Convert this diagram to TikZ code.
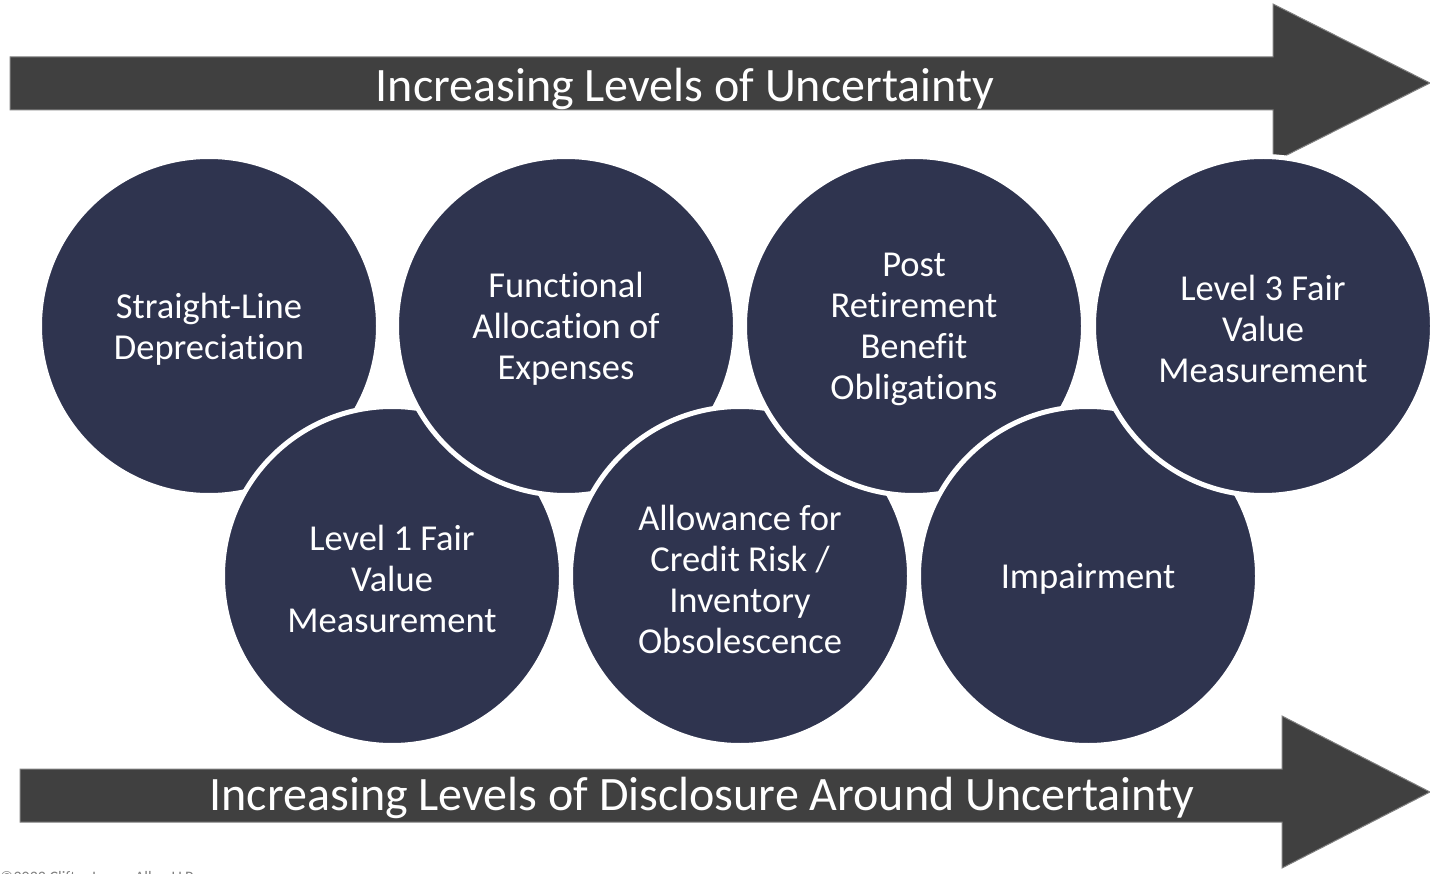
\documentclass[tikz,border=0pt]{standalone}
\usepackage{fontspec}
\setmainfont{Carlito}[RawFeature={-liga;-clig;-dlig;-calt}]
\definecolor{navy}{HTML}{2F344F}
\definecolor{arrowgray}{HTML}{404040}
\definecolor{edgegray}{HTML}{808080}
\begin{document}
\begin{tikzpicture}[x=1pt,y=-1pt,
  topic/.style={circle, fill=navy, draw=white, line width=5pt, minimum size=339pt, inner sep=0pt},
  topictext/.style={align=center, text=white, inner sep=0pt, yshift=-3pt,
    font=\fontsize{36.5}{41}\selectfont},
  banner/.style={fill=arrowgray, draw=edgegray, line width=1pt},
  bannertext/.style={text=white, font=\fontsize{48}{52}\selectfont, inner sep=0pt, anchor=base}
]
\useasboundingbox (0,0) rectangle (1430,874);

% block arrows
\draw[banner] (10,57) -- (1273,57) -- (1273,4) -- (1430,83) -- (1273,162) -- (1273,110) -- (10,110) -- cycle;
\draw[banner] (20,769) -- (1282,769) -- (1282,716) -- (1430,792) -- (1282,868) -- (1282,822) -- (20,822) -- cycle;
\node[bannertext] (toplabel) at (685,102) {Increasing Levels of Uncertainty};
\node[bannertext] (bottomlabel) at (702,810) {Increasing Levels of Disclosure Around Uncertainty};

% circles, drawn left to right in zigzag order, each with its caption
\node[topic] (s1) at (209,326) {};
\node[topictext] (s1t) at (s1) {Straight-Line\\Depreciation};
\node[topic] (l1) at (392,576) {};
\node[topictext] (l1t) at (l1) {Level 1 Fair\\Value\\Measurement};
\node[topic] (s2) at (566,326) {};
\node[topictext] (s2t) at (s2) {Functional\\Allocation of\\Expenses};
\node[topic] (l2) at (740,576) {};
\node[topictext] (l2t) at (l2) {Allowance for\\Credit Risk /\\Inventory\\Obsolescence};
\node[topic] (s3) at (914,326) {};
\node[topictext] (s3t) at (s3) {Post\\Retirement\\Benefit\\Obligations};
\node[topic] (l3) at (1088,576) {};
\node[topictext] (l3t) at (l3) {Impairment};
\node[topic] (s4) at (1263,326) {};
\node[topictext] (s4t) at (s4) {Level 3 Fair\\Value\\Measurement};

% footer
\node[text=gray, font=\fontsize{16}{18}\selectfont, inner sep=0pt, anchor=base west] (footer) at (0,882) {©2022 CliftonLarsonAllen LLP};
\end{tikzpicture}
\end{document}
